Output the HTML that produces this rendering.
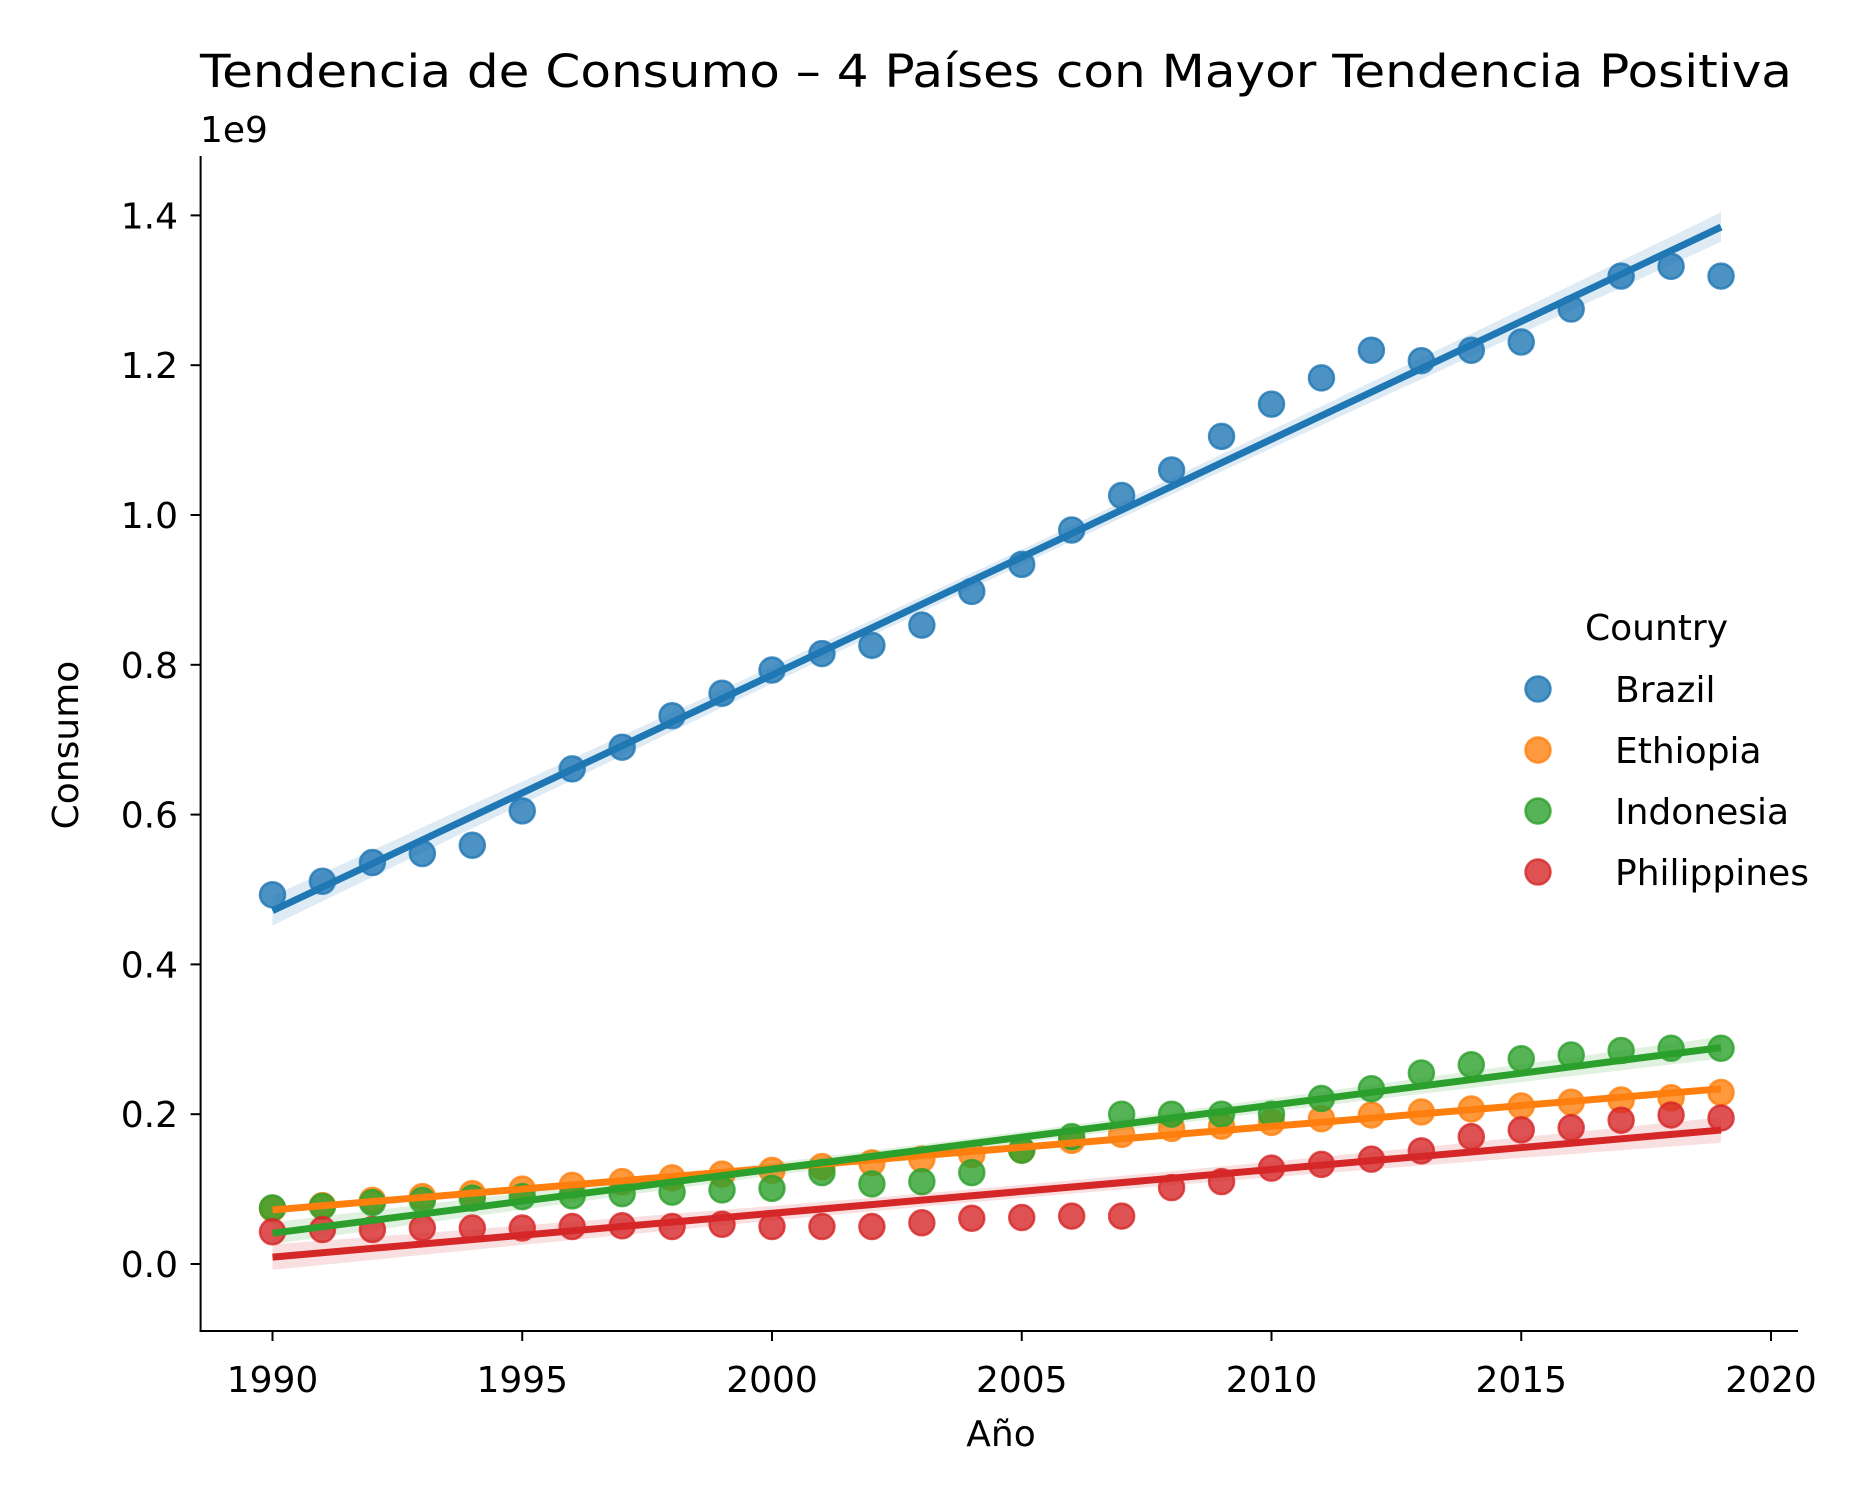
<!DOCTYPE html>
<html><head><meta charset="utf-8"><style>
html,body{margin:0;padding:0;background:#fff;}
svg{display:block;font-family:"DejaVu Sans","Liberation Sans",sans-serif;}
</style></head><body>
<svg id="chart" width="1874" height="1500" viewBox="0 0 1874 1500" xmlns="http://www.w3.org/2000/svg">
<text x="200" y="87" font-size="45" textLength="1592" lengthAdjust="spacingAndGlyphs">Tendencia de Consumo – 4 Países con Mayor Tendencia Positiva</text>
<text x="200" y="142" font-size="36">1e9</text>
<text transform="translate(78,745) rotate(-90)" text-anchor="middle" font-size="36">Consumo</text>
<text x="1001" y="1446" text-anchor="middle" font-size="36">Año</text>
<g id="plot"></g>
<g id="legend"></g>
</svg>
<script>
const years = [];
for (let y = 1990; y <= 2019; y++) years.push(y);
const countries = ["Brazil", "Ethiopia", "Indonesia", "Philippines"];
const brazil = [0.493,0.511,0.536,0.548,0.559,0.605,0.661,0.690,0.732,0.762,0.793,0.815,0.826,0.853,0.898,0.934,0.980,1.026,1.060,1.105,1.148,1.183,1.220,1.206,1.220,1.231,1.275,1.319,1.332,1.319];
const ethiopia = [0.074,0.078,0.085,0.090,0.094,0.100,0.105,0.110,0.115,0.120,0.125,0.130,0.135,0.140,0.146,0.152,0.165,0.173,0.181,0.184,0.189,0.194,0.199,0.203,0.207,0.211,0.216,0.219,0.222,0.229];
const indonesia = [0.075,0.077,0.082,0.085,0.088,0.090,0.091,0.094,0.096,0.099,0.101,0.122,0.107,0.110,0.122,0.152,0.170,0.200,0.200,0.200,0.200,0.221,0.234,0.255,0.266,0.274,0.279,0.285,0.288,0.288];
const philippines = [0.043,0.046,0.046,0.048,0.048,0.048,0.050,0.051,0.050,0.053,0.050,0.050,0.050,0.055,0.061,0.062,0.064,0.064,0.102,0.110,0.128,0.133,0.140,0.151,0.170,0.179,0.182,0.192,0.199,0.195];
const xTicks = [1990,1995,2000,2005,2010,2015,2020];
const yTicks = [0.0,0.2,0.4,0.6,0.8,1.0,1.2,1.4];
const yTickLabels = ["0.0","0.2","0.4","0.6","0.8","1.0","1.2","1.4"];

const colors = ["#1f77b4","#ff7f0e","#2ca02c","#d62728"];
const series = [brazil, ethiopia, indonesia, philippines];
const NS = "http://www.w3.org/2000/svg";
const X0 = 272.5, XPER = 49.95, Y0 = 1264, YPER = 749;
const xs = v => X0 + (v - 1990) * XPER;
const ys = v => Y0 - v * YPER;
const plot = document.getElementById("plot");
function mk(tag, attrs, parent) {
  const e = document.createElementNS(NS, tag);
  for (const k in attrs) e.setAttribute(k, attrs[k]);
  (parent || plot).appendChild(e);
  return e;
}
let e = mk("line", {x1:200.6,y1:156,x2:200.6,y2:1332,stroke:"#000","stroke-width":2});


e = mk("line", {x1:199.6,y1:1331,x2:1798,y2:1331,stroke:"#000","stroke-width":2});


xTicks.forEach(t => {
  const g = mk("g", {});
  
  
  mk("line", {x1:xs(t),y1:1331,x2:xs(t),y2:1341,stroke:"#000","stroke-width":2}, g);
  const tx = mk("text", {x:xs(t),y:1392,"text-anchor":"middle","font-size":36}, g);
  tx.textContent = t;
});
yTicks.forEach((t, i) => {
  const g = mk("g", {});
  
  
  mk("line", {x1:190.6,y1:ys(t),x2:200.6,y2:ys(t),stroke:"#000","stroke-width":2}, g);
  const tx = mk("text", {x:178,y:ys(t)+13,"text-anchor":"end","font-size":36}, g);
  tx.textContent = yTickLabels[i];
});
const fits = series.map(vals => {
  const n = vals.length;
  const mx = years.reduce((a,b)=>a+b,0)/n, my = vals.reduce((a,b)=>a+b,0)/n;
  let sxx=0, sxy=0;
  for (let i=0;i<n;i++){sxx+=(years[i]-mx)**2; sxy+=(years[i]-mx)*(vals[i]-my);}
  const b = sxy/sxx, a = my - b*mx;
  let sse=0; for (let i=0;i<n;i++) sse += (vals[i]-(a+b*years[i]))**2;
  const s = Math.sqrt(sse/(n-2));
  return {a,b,mx,sxx,s,n};
});
series.forEach((vals, k) => {
  const f = fits[k];
  const g = mk("g", {});
  
  
  const up = [], lo = [];
  for (let t = years[0]; t <= years[years.length-1] + 0.001; t += 0.5) {
    const yh = f.a + f.b*t;
    const ci = 2.05 * f.s * Math.sqrt(1/f.n + (t-f.mx)**2/f.sxx);
    up.push(xs(t)+","+ys(yh+ci)); lo.unshift(xs(t)+","+ys(yh-ci));
  }
  const band = mk("polygon", {points: up.concat(lo).join(" "), fill: colors[k], "fill-opacity":0.15}, g);
  
  
  vals.forEach((v, i) => {
    const c = mk("circle", {cx:xs(years[i]), cy:ys(v), r:12.5, fill:colors[k], "fill-opacity":0.8, stroke:colors[k], "stroke-opacity":0.8, "stroke-width":2.5}, g);
    
    
  });
});
series.forEach((vals, k) => {
  const f = fits[k];
  const t0 = years[0], t1 = years[years.length-1];
  const ln = mk("line", {x1:xs(t0),y1:ys(f.a+f.b*t0),x2:xs(t1),y2:ys(f.a+f.b*t1),stroke:colors[k],"stroke-width":7});
  
  
});
const leg = document.getElementById("legend");
const lt = mk("text", {x:1585,y:640,"font-size":36}, leg);


lt.textContent = "Country";
countries.forEach((c, k) => {
  const g = mk("g", {}, leg);
  
  
  const cy = 689 + k*61;
  mk("circle", {cx:1538, cy:cy, r:12.5, fill:colors[k], "fill-opacity":0.8, stroke:colors[k], "stroke-opacity":0.8, "stroke-width":2.5}, g);
  const t = mk("text", {x:1615, y:cy+13, "font-size":36}, g);
  t.textContent = c;
});
</script>
</body></html>
